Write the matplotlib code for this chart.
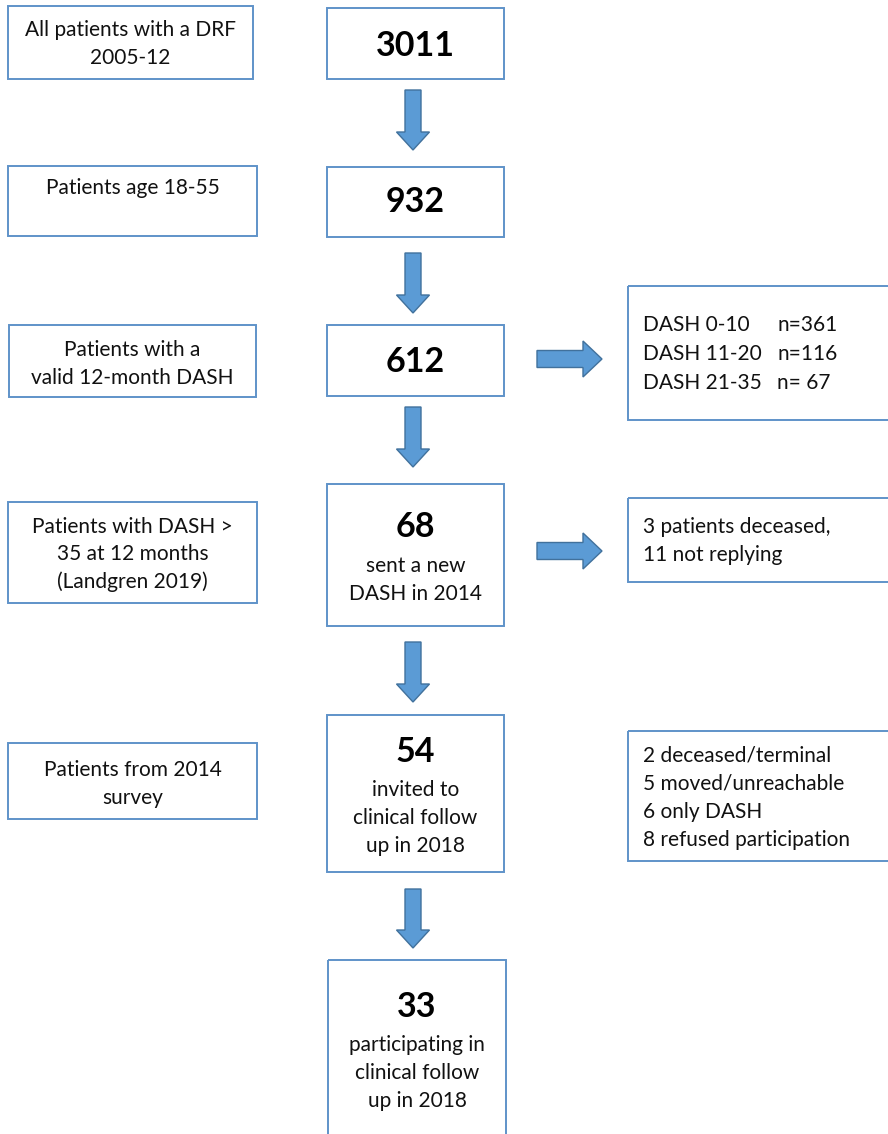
import matplotlib.pyplot as plt
from matplotlib.patches import Rectangle, FancyArrow

plt.rcParams['font.family'] = ['Lato', 'DejaVu Sans']

# —— data —— #
left_labels = [
    ["All patients with a DRF", "2005-12"],
    ["Patients age 18-55"],
    ["Patients with a", "valid 12-month DASH"],
    ["Patients with DASH >", "35 at 12 months", "(Landgren 2019)"],
    ["Patients from 2014", "survey"],
]
counts = ["3011", "932", "612", "68", "54", "33"]
count_notes = [
    [],
    [],
    [],
    ["sent a new", "DASH in 2014"],
    ["invited to", "clinical follow", "up in 2018"],
    ["participating in", "clinical follow", "up in 2018"],
]
dash_groups = ["DASH 0-10", "DASH 11-20", "DASH 21-35"]
dash_n = ["n=361", "n=116", "n= 67"]
lost_2014 = ["3 patients deceased,", "11 not replying"]
lost_2018 = ["2 deceased/terminal", "5 moved/unreachable", "6 only DASH",
             "8 refused participation"]

# —— layout (pixels, y down) —— #
W, H = 888, 1134
BOX_EC = '#5f93c9'
ARROW_FC = '#5b9bd5'
ARROW_EC = '#41719c'
TXT = '#111111'
FS = 15

left_boxes = [(8, 253, 6, 79), (8, 257, 166, 236), (9, 256, 325, 397),
              (8, 257, 502, 603), (8, 257, 743, 819)]
left_first = [30, 188, 350, 527, 770]

mid_boxes = [(327, 504, 8, 79), (327, 504, 167, 237), (327, 504, 325, 396),
             (327, 504, 484, 626), (327, 504, 715, 872), (328, 506, 960, 1145)]
mid_num_y = [46, 202, 362, 527, 752, 1007]
mid_note_y = [None, None, None, 566, 790, 1045]

side_boxes = [(628, 892, 286, 420), (628, 892, 498, 582), (628, 892, 731, 861)]

down_arrows = [(90, 150), (253, 313), (407, 467), (642, 702), (889, 948)]
right_arrows = [359, 551]

fig = plt.figure(figsize=(W / 100, H / 100), dpi=100)
ax = fig.add_axes([0, 0, 1, 1])
ax.set_xlim(0, W)
ax.set_ylim(H, 0)
ax.axis('off')


def box(x0, x1, y0, y1):
    ax.add_patch(Rectangle((x0, y0), x1 - x0, y1 - y0, fill=False,
                           edgecolor=BOX_EC, linewidth=1.4))


def lines(x, y0, texts, step=27.5, ha='center', **kw):
    for i, t in enumerate(texts):
        ax.text(x, y0 + i * step, t, ha=ha, va='center', color=TXT, **kw)


# left column
for (x0, x1, y0, y1), fy, lab in zip(left_boxes, left_first, left_labels):
    box(x0, x1, y0, y1)
    lines((x0 + x1) / 2, fy, lab, fontsize=FS)

# middle column
for (x0, x1, y0, y1), ny, noty, num, notes in zip(mid_boxes, mid_num_y,
                                                   mid_note_y, counts, count_notes):
    box(x0, x1, y0, y1)
    cx = (x0 + x1) / 2
    ax.text(cx, ny, num, ha='center', va='center', fontsize=24.5,
            fontweight='bold', color='black')
    if notes:
        lines(cx, noty, notes, step=28, fontsize=FS)

# right column
for b in side_boxes:
    box(*b)
lines(643, 325, dash_groups, step=29, ha='left', fontsize=FS)
lines(777, 325, dash_n, step=29, ha='left', fontsize=FS)
lines(643, 527, lost_2014, step=28, ha='left', fontsize=FS)
lines(643, 755, lost_2018, step=28.5, ha='left', fontsize=FS)

# arrows
for top, tip in down_arrows:
    ax.add_patch(FancyArrow(413, top, 0, tip - top, width=16, head_width=33,
                            head_length=18, length_includes_head=True,
                            facecolor=ARROW_FC, edgecolor=ARROW_EC, linewidth=1))
for cy in right_arrows:
    ax.add_patch(FancyArrow(537, cy, 65, 0, width=17, head_width=36,
                            head_length=19, length_includes_head=True,
                            facecolor=ARROW_FC, edgecolor=ARROW_EC, linewidth=1))

fig.savefig('out.png', dpi=100, facecolor='white')
